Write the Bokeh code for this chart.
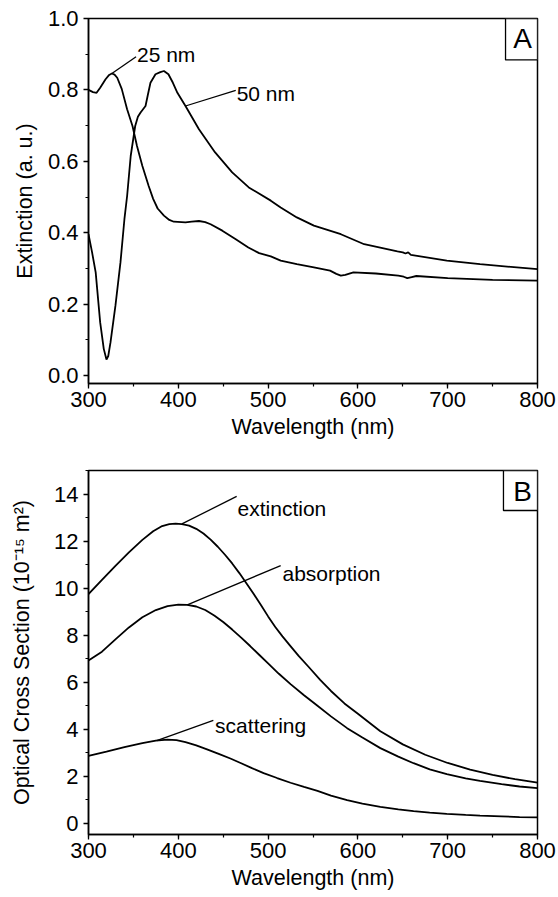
from bokeh.plotting import figure
from bokeh.layouts import column
from bokeh.models import BoxAnnotation, Label, SingleIntervalTicker, Range1d, NumeralTickFormatter
from bokeh.embed import file_html
from bokeh.resources import INLINE

# ---------------- Panel A data ----------------
wl_25nm = [300, 305, 309, 313, 319, 323, 326, 329, 332, 337, 343, 349, 354, 360, 367, 372, 377,
           384, 390, 395, 408, 415, 423, 430, 436, 449, 464, 478, 490, 503, 514, 532, 551, 569,
           576, 581, 586, 595, 620, 645, 651, 655, 660, 665, 700, 750, 800]
ext_25nm = [0.800, 0.794, 0.792, 0.806, 0.830, 0.842, 0.846, 0.843, 0.834, 0.803, 0.746, 0.699,
            0.643, 0.587, 0.531, 0.495, 0.468, 0.448, 0.436, 0.431, 0.429, 0.431, 0.433, 0.430,
            0.424, 0.406, 0.382, 0.359, 0.343, 0.334, 0.322, 0.312, 0.303, 0.294, 0.285, 0.280,
            0.282, 0.289, 0.286, 0.280, 0.277, 0.273, 0.276, 0.279, 0.273, 0.268, 0.266]

wl_50nm = [300, 304, 308, 313, 317, 320, 322, 324.5, 330, 335.6, 340, 343, 347, 352, 355, 358,
           363.5, 366, 369, 374.6, 380, 384, 389, 394, 399, 408, 423, 441, 460, 478.5, 503, 514,
           532, 551, 581, 607, 644, 650, 653, 656, 659, 699, 736, 800]
ext_50nm = [0.396, 0.345, 0.289, 0.149, 0.075, 0.045, 0.055, 0.093, 0.196, 0.317, 0.438, 0.503,
            0.615, 0.699, 0.725, 0.737, 0.755, 0.785, 0.820, 0.844, 0.850, 0.853, 0.844, 0.820,
            0.792, 0.755, 0.690, 0.625, 0.569, 0.527, 0.490, 0.471, 0.443, 0.420, 0.396, 0.368,
            0.348, 0.345, 0.342, 0.345, 0.338, 0.322, 0.312, 0.298]

# ---------------- Panel B data ----------------
wl_ext = [300, 315, 330, 345, 360, 372, 382, 390, 397, 404, 412, 420, 428, 436, 444, 452, 460,
          468, 476, 484, 492, 500, 508, 516, 524, 534, 545, 558, 570, 585, 600, 625, 650, 675,
          700, 725, 750, 775, 800]
sigma_ext = [9.75, 10.35, 10.95, 11.52, 12.05, 12.42, 12.64, 12.72, 12.74, 12.72, 12.66, 12.52,
             12.32, 12.06, 11.76, 11.42, 11.05, 10.64, 10.20, 9.75, 9.28, 8.80, 8.35, 7.95,
             7.58, 7.12, 6.66, 6.10, 5.63, 5.10, 4.66, 3.92, 3.36, 2.92, 2.57, 2.29, 2.06,
             1.88, 1.73]

wl_abs = [300, 315, 330, 345, 360, 375, 388, 400, 410, 420, 430, 440, 450, 460, 470, 480, 490,
          500, 512, 525, 540, 555, 570, 588, 605, 625, 645, 662, 680, 699, 720, 736, 760, 780, 800]
sigma_abs = [6.92, 7.30, 7.82, 8.33, 8.76, 9.07, 9.24, 9.30, 9.29, 9.22, 9.07, 8.84, 8.56, 8.24,
             7.90, 7.54, 7.17, 6.80, 6.36, 5.92, 5.45, 5.00, 4.55, 4.05, 3.65, 3.20, 2.84, 2.56,
             2.30, 2.10, 1.92, 1.81, 1.67, 1.57, 1.50]

wl_sca = [300, 320, 340, 360, 375, 388, 398, 408, 420, 432, 445, 458, 470, 482, 495, 510, 525,
          540, 555, 570, 588, 605, 625, 645, 662, 680, 699, 720, 736, 760, 780, 800]
sigma_sca = [2.87, 3.05, 3.24, 3.41, 3.52, 3.56, 3.54, 3.46, 3.32, 3.15, 2.96, 2.76, 2.56, 2.35,
             2.14, 1.93, 1.73, 1.55, 1.38, 1.18, 0.99, 0.84, 0.70, 0.60, 0.52, 0.46, 0.41, 0.36,
             0.33, 0.30, 0.27, 0.26]

# ---------------- Annotations ----------------
ann_A_text = ["25 nm", "50 nm"]
ann_A_line = [(326, 0.846, 353, 0.893), (408, 0.755, 464, 0.799)]
ann_A_pos = [(354, 0.900), (465, 0.790)]

ann_B_text = ["extinction", "absorption", "scattering"]
ann_B_line = [(404, 12.73, 465, 13.90), (410, 9.29, 514, 10.96), (376, 3.52, 439, 4.38)]
ann_B_pos = [(466, 13.40), (516, 10.62), (441, 4.16)]

x_label = "Wavelength (nm)"
FONT = "Liberation Sans"


def style(p, y_interval, y_label, label_standoff, fmt=None):
    p.xgrid.visible = False
    p.ygrid.visible = False
    p.outline_line_color = "black"
    p.outline_line_width = 1.5
    p.outline_line_alpha = 1.0
    p.xaxis.ticker = SingleIntervalTicker(interval=100, num_minor_ticks=2)
    p.yaxis.ticker = SingleIntervalTicker(interval=y_interval, num_minor_ticks=2)
    if fmt:
        p.yaxis.formatter = NumeralTickFormatter(format=fmt)
    for ax in (p.xaxis[0], p.yaxis[0]):
        ax.axis_line_width = 1.5
        ax.axis_line_color = "black"
        ax.major_tick_line_color = "black"
        ax.minor_tick_line_color = "black"
        ax.major_tick_line_width = 1.3
        ax.minor_tick_line_width = 1.2
        ax.major_tick_in = 0
        ax.major_tick_out = 5
        ax.minor_tick_in = 0
        ax.minor_tick_out = 3
        ax.major_label_text_font = FONT
        ax.major_label_text_font_size = "22px"
        ax.major_label_text_color = "black"
        ax.axis_label_text_font = FONT
        ax.axis_label_text_font_size = "21.5px"
        ax.axis_label_text_font_style = "normal"
        ax.axis_label_text_color = "black"
    p.xaxis.axis_label = x_label
    p.xaxis.major_label_standoff = 3
    p.xaxis.axis_label_standoff = 5
    p.yaxis.axis_label = y_label
    p.yaxis.major_label_standoff = 5
    p.yaxis.axis_label_standoff = label_standoff


def annotate(p, lines, texts, positions):
    p.segment(x0=[l[0] for l in lines], y0=[l[1] for l in lines],
              x1=[l[2] for l in lines], y1=[l[3] for l in lines],
              line_color="black", line_width=1.3)
    for t, (x, y) in zip(texts, positions):
        p.add_layout(Label(x=x, y=y, text=t, text_font=FONT, text_font_size="21px",
                           text_color="black", text_align="left", text_baseline="alphabetic"))


def panel_letter(p, letter, left, bottom, cx, cy):
    p.add_layout(BoxAnnotation(left=left, bottom=bottom, fill_color="white", fill_alpha=1.0,
                               line_color="black", line_width=1.3, line_alpha=1.0))
    p.add_layout(Label(x=cx, y=cy, text=letter, text_font=FONT, text_font_size="28px",
                       text_color="black", text_align="center", text_baseline="middle"))


# ---------------- Panel A ----------------
pA = figure(frame_width=449, frame_height=365, x_range=Range1d(300, 800),
            y_range=Range1d(-0.022, 1.0), output_backend="svg", toolbar_location=None,
            min_border_left=88, min_border_right=21, min_border_top=18, min_border_bottom=66)
style(pA, 0.2, "Extinction (a. u.)", 8, fmt="0.0")
pA.line(wl_25nm, ext_25nm, line_color="black", line_width=1.8)
pA.line(wl_50nm, ext_50nm, line_color="black", line_width=1.8)
annotate(pA, ann_A_line, ann_A_text, ann_A_pos)
panel_letter(pA, "A", 764.4, 0.884, 783.3, 0.943)

# ---------------- Panel B ----------------
pB = figure(frame_width=449, frame_height=364, x_range=Range1d(300, 800),
            y_range=Range1d(-0.47, 15.0), output_backend="svg", toolbar_location=None,
            min_border_left=88, min_border_right=21, min_border_top=21, min_border_bottom=10)
style(pB, 2, "Optical Cross Section (10\u207b\u00b9\u2075 m\u00b2)", 17)
pB.line(wl_ext, sigma_ext, line_color="black", line_width=1.8)
pB.line(wl_abs, sigma_abs, line_color="black", line_width=1.8)
pB.line(wl_sca, sigma_sca, line_color="black", line_width=1.8)
annotate(pB, ann_B_line, ann_B_text, ann_B_pos)
panel_letter(pB, "B", 762.1, 13.30, 783.3, 14.1)

layout = column(pA, pB)
open("out.html", "w").write(file_html(layout, INLINE))
